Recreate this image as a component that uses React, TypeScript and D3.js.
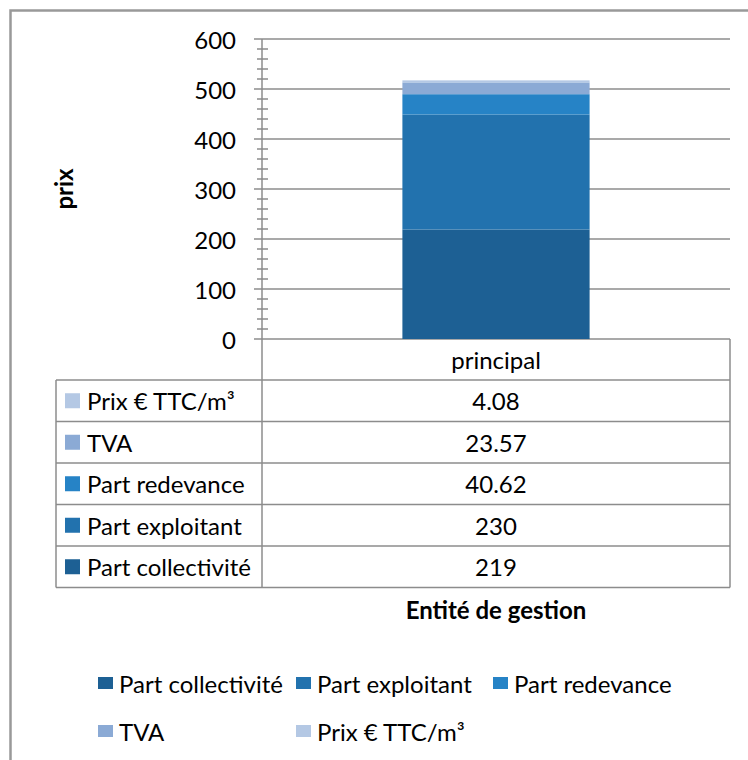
import React from 'react'
import * as d3 from 'd3'

const categories = ['principal']
const seriesNames = ['Part collectivité', 'Part exploitant', 'Part redevance', 'TVA', 'Prix € TTC/m³']
const seriesValues = [219, 230, 40.62, 23.57, 4.08]
const seriesColors = ['#1d6094', '#2272ae', '#2683c6', '#8baad5', '#b4c8e4']
const yTicks = [0, 100, 200, 300, 400, 500, 600]

const width = 748
const height = 760
const font = 'Lato, "Open Sans", sans-serif'
const fontSize = 24
const gray = '#8c8c8c'

const plot = { left: 262, right: 730, top: 39, bottom: 339 }
const table = { left: 56, headerBottom: 380, rowHeight: 41.5 }

const yScale = d3.scaleLinear().domain([0, 600]).range([plot.bottom, plot.top])
const xScale = d3.scaleBand()
  .domain(categories)
  .range([plot.left, plot.right])
  .paddingInner(0.6)
  .paddingOuter(0.3)

const rows = categories.map(c => {
  const r: any = { category: c }
  seriesNames.forEach((s, i) => { r[s] = seriesValues[i] })
  return r
})
const stacked = d3.stack().keys(seriesNames)(rows)
const color = d3.scaleOrdinal<string>().domain(seriesNames).range(seriesColors)

// table rows are listed top series first
const tableOrder = seriesNames.map((s, i) => ({ name: s, value: seriesValues[i] })).reverse()

export default function App() {
  const colRight = plot.right
  const tableBottom = table.headerBottom + table.rowHeight * tableOrder.length
  return (
    <svg width={width} height={height} style={{ position: 'absolute', left: 0, top: 0, background: '#fff' }}
      fontFamily={font} fontSize={fontSize}>
      <rect x={10.5} y={10.5} width={800} height={800} fill="#fff" stroke="#999" strokeWidth={2.5} />

      {/* gridlines */}
      {yTicks.map(t => (
        <line key={'g' + t} x1={plot.left - 8} x2={plot.right} y1={yScale(t)} y2={yScale(t)}
          stroke={gray} strokeWidth={1.5} />
      ))}
      {/* minor ticks */}
      {yScale.ticks(30).filter(t => t % 100 !== 0).map(t => (
        <line key={'m' + t} x1={plot.left - 5} x2={plot.left + 6} y1={yScale(t)} y2={yScale(t)}
          stroke={gray} strokeWidth={1.5} />
      ))}
      {yTicks.map(t => (
        <text key={'l' + t} x={236} y={yScale(t)} textAnchor="end" dominantBaseline="central" fill="#000">{t}</text>
      ))}
      <text transform={`translate(63,${(plot.top + plot.bottom) / 2}) rotate(-90)`} textAnchor="middle"
        dominantBaseline="central" fontWeight="bold" fill="#000">prix</text>

      {/* bars */}
      {stacked.map(layer => layer.map((d, j) => (
        <rect key={layer.key + j} x={xScale(categories[j])} width={xScale.bandwidth()}
          y={yScale(d[1])} height={yScale(d[0]) - yScale(d[1])} fill={color(layer.key)} />
      )))}

      {/* y axis line, down through header row */}
      <line x1={plot.left} x2={plot.left} y1={plot.top} y2={tableBottom} stroke={gray} strokeWidth={1.5} />

      {/* data table */}
      <line x1={colRight} x2={colRight} y1={plot.bottom} y2={tableBottom} stroke={gray} strokeWidth={1.5} />
      <line x1={table.left} x2={table.left} y1={table.headerBottom} y2={tableBottom} stroke={gray} strokeWidth={1.5} />
      {tableOrder.map((_, i) => (
        <line key={'r' + i} x1={table.left} x2={colRight}
          y1={table.headerBottom + table.rowHeight * i} y2={table.headerBottom + table.rowHeight * i}
          stroke={gray} strokeWidth={1.5} />
      ))}
      <line x1={table.left} x2={colRight} y1={tableBottom} y2={tableBottom} stroke={gray} strokeWidth={1.5} />
      {categories.map(c => (
        <text key={c} x={(xScale(c) as number) + xScale.bandwidth() / 2} y={(plot.bottom + table.headerBottom) / 2}
          textAnchor="middle" dominantBaseline="central" fill="#000">{c}</text>
      ))}
      {tableOrder.map((row, i) => {
        const cy = table.headerBottom + table.rowHeight * (i + 0.5)
        return (
          <g key={row.name}>
            <rect x={65} y={cy - 7.5} width={15} height={15} fill={color(row.name)} />
            <text x={87} y={cy} dominantBaseline="central" fill="#000">{row.name}</text>
            {categories.map(c => (
              <text key={c} x={(xScale(c) as number) + xScale.bandwidth() / 2} y={cy}
                textAnchor="middle" dominantBaseline="central" fill="#000">{String(row.value)}</text>
            ))}
          </g>
        )
      })}

      <text x={(plot.left + colRight) / 2} y={609} textAnchor="middle" dominantBaseline="central"
        fontWeight="bold" fill="#000">Entité de gestion</text>

      {/* legend */}
      {seriesNames.map((s, i) => {
        const lx = [98, 296, 493][i % 3]
        const ly = i < 3 ? 683 : 731
        return (
          <g key={'lg' + s}>
            <rect x={lx} y={ly - 6} width={15} height={12} fill={color(s)} />
            <text x={lx + 21} y={ly} dominantBaseline="central" fill="#000">{s}</text>
          </g>
        )
      })}
    </svg>
  )
}
